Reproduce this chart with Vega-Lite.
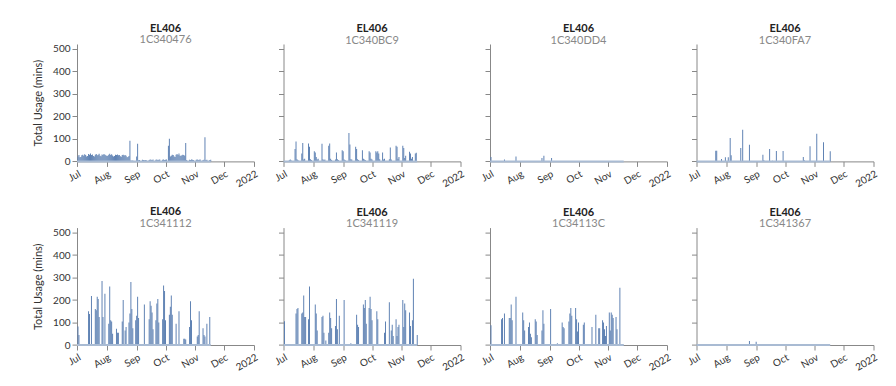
{
  "$schema": "https://vega.github.io/schema/vega-lite/v6.json",
  "background": "white",
  "padding": {"left": 32, "top": 22, "right": 5, "bottom": 5},
  "config": {
    "font": "Lato",
    "view": {"stroke": null},
    "axis": {"labelFont": "Lato", "labelFontSize": 10, "labelColor": "#333", "domainColor": "#888", "tickColor": "#888", "titleFont": "Lato", "titleFontSize": 11, "titleFontWeight": "normal", "titleColor": "#333", "grid": false, "tickSize": 5, "labelOverlap": false},
    "title": {"font": "Lato", "fontSize": 11, "fontWeight": "bold", "color": "#222", "subtitleFont": "Lato", "subtitleFontSize": 11, "subtitleColor": "#888", "offset": -1.5, "subtitlePadding": 0.6, "anchor": "middle"},
    "bar": {"color": "#5a7eb1", "binSpacing": 0}
  },
  "datasets": {
    "p1": [
      {"t":"2021/07/01","v":22},{"t":"2021/07/02","v":28},{"t":"2021/07/03","v":18},{"t":"2021/07/04","v":20},{"t":"2021/07/05","v":27},{"t":"2021/07/06","v":30},{"t":"2021/07/07","v":25},{"t":"2021/07/08","v":32},{"t":"2021/07/09","v":28},{"t":"2021/07/10","v":22},{"t":"2021/07/11","v":24},{"t":"2021/07/12","v":33},{"t":"2021/07/13","v":30},{"t":"2021/07/14","v":35},{"t":"2021/07/15","v":28},{"t":"2021/07/16","v":31},{"t":"2021/07/17","v":24},{"t":"2021/07/18","v":22},{"t":"2021/07/19","v":30},{"t":"2021/07/20","v":33},{"t":"2021/07/21","v":27},{"t":"2021/07/22","v":30},{"t":"2021/07/23","v":34},{"t":"2021/07/24","v":25},{"t":"2021/07/25","v":23},{"t":"2021/07/26","v":31},{"t":"2021/07/27","v":28},{"t":"2021/07/28","v":33},{"t":"2021/07/29","v":30},{"t":"2021/07/30","v":27},{"t":"2021/07/31","v":24},
      {"t":"2021/08/01","v":25},{"t":"2021/08/02","v":30},{"t":"2021/08/03","v":34},{"t":"2021/08/04","v":28},{"t":"2021/08/05","v":32},{"t":"2021/08/06","v":26},{"t":"2021/08/07","v":22},{"t":"2021/08/08","v":24},{"t":"2021/08/09","v":30},{"t":"2021/08/10","v":28},{"t":"2021/08/11","v":31},{"t":"2021/08/12","v":27},{"t":"2021/08/13","v":29},{"t":"2021/08/14","v":23},{"t":"2021/08/15","v":21},{"t":"2021/08/16","v":28},{"t":"2021/08/17","v":30},{"t":"2021/08/18","v":26},{"t":"2021/08/19","v":29},{"t":"2021/08/20","v":25},{"t":"2021/08/21","v":18},{"t":"2021/08/22","v":20},{"t":"2021/08/23","v":24},{"t":"2021/08/24","v":92},{"t":"2021/08/25","v":4},{"t":"2021/08/26","v":3},{"t":"2021/08/27","v":4},{"t":"2021/08/31","v":22},
      {"t":"2021/09/01","v":79},{"t":"2021/09/02","v":5},{"t":"2021/09/03","v":6},{"t":"2021/09/06","v":7},{"t":"2021/09/07","v":6},{"t":"2021/09/08","v":5},{"t":"2021/09/09","v":6},{"t":"2021/09/10","v":5},{"t":"2021/09/13","v":6},{"t":"2021/09/14","v":8},{"t":"2021/09/15","v":7},{"t":"2021/09/16","v":6},{"t":"2021/09/17","v":8},{"t":"2021/09/20","v":7},{"t":"2021/09/21","v":8},{"t":"2021/09/22","v":6},{"t":"2021/09/23","v":7},{"t":"2021/09/24","v":8},{"t":"2021/09/27","v":7},{"t":"2021/09/28","v":8},{"t":"2021/09/29","v":6},{"t":"2021/09/30","v":7},
      {"t":"2021/10/01","v":8},{"t":"2021/10/03","v":70},{"t":"2021/10/04","v":101},{"t":"2021/10/05","v":22},{"t":"2021/10/06","v":25},{"t":"2021/10/07","v":30},{"t":"2021/10/08","v":28},{"t":"2021/10/09","v":22},{"t":"2021/10/10","v":20},{"t":"2021/10/11","v":30},{"t":"2021/10/12","v":33},{"t":"2021/10/13","v":28},{"t":"2021/10/14","v":35},{"t":"2021/10/15","v":26},{"t":"2021/10/16","v":24},{"t":"2021/10/17","v":27},{"t":"2021/10/18","v":30},{"t":"2021/10/19","v":28},{"t":"2021/10/20","v":25},{"t":"2021/10/21","v":82},{"t":"2021/10/22","v":6},{"t":"2021/10/25","v":7},{"t":"2021/10/26","v":6},{"t":"2021/10/27","v":8},{"t":"2021/10/28","v":7},{"t":"2021/10/29","v":6},
      {"t":"2021/11/01","v":7},{"t":"2021/11/02","v":8},{"t":"2021/11/03","v":6},{"t":"2021/11/04","v":7},{"t":"2021/11/05","v":8},{"t":"2021/11/08","v":6},{"t":"2021/11/09","v":7},{"t":"2021/11/10","v":107},{"t":"2021/11/11","v":6},{"t":"2021/11/12","v":7},{"t":"2021/11/15","v":6},{"t":"2021/11/16","v":7},{"t":"2021/11/17","v":0}
    ],
    "p2": [
      {"t":"2021/07/01","v":0},{"t":"2021/07/06","v":5},{"t":"2021/07/07","v":8},{"t":"2021/07/08","v":4},{"t":"2021/07/12","v":55},{"t":"2021/07/13","v":89},{"t":"2021/07/14","v":10},{"t":"2021/07/15","v":6},{"t":"2021/07/19","v":35},{"t":"2021/07/20","v":82},{"t":"2021/07/21","v":8},{"t":"2021/07/22","v":12},{"t":"2021/07/26","v":80},{"t":"2021/07/27","v":65},{"t":"2021/07/28","v":10},{"t":"2021/07/29","v":6},
      {"t":"2021/08/01","v":45},{"t":"2021/08/02","v":40},{"t":"2021/08/03","v":20},{"t":"2021/08/04","v":8},{"t":"2021/08/05","v":12},{"t":"2021/08/09","v":78},{"t":"2021/08/10","v":10},{"t":"2021/08/11","v":6},{"t":"2021/08/12","v":8},{"t":"2021/08/16","v":70},{"t":"2021/08/17","v":80},{"t":"2021/08/18","v":12},{"t":"2021/08/19","v":6},{"t":"2021/08/23","v":8},{"t":"2021/08/24","v":40},{"t":"2021/08/25","v":10},{"t":"2021/08/26","v":6},{"t":"2021/08/30","v":50},{"t":"2021/08/31","v":45},
      {"t":"2021/09/01","v":8},{"t":"2021/09/02","v":6},{"t":"2021/09/06","v":126},{"t":"2021/09/07","v":75},{"t":"2021/09/08","v":10},{"t":"2021/09/09","v":8},{"t":"2021/09/13","v":65},{"t":"2021/09/14","v":55},{"t":"2021/09/15","v":10},{"t":"2021/09/16","v":6},{"t":"2021/09/20","v":50},{"t":"2021/09/21","v":12},{"t":"2021/09/22","v":8},{"t":"2021/09/23","v":6},{"t":"2021/09/27","v":45},{"t":"2021/09/28","v":40},{"t":"2021/09/29","v":12},{"t":"2021/09/30","v":8},
      {"t":"2021/10/04","v":45},{"t":"2021/10/05","v":40},{"t":"2021/10/06","v":45},{"t":"2021/10/07","v":35},{"t":"2021/10/08","v":10},{"t":"2021/10/11","v":40},{"t":"2021/10/12","v":8},{"t":"2021/10/13","v":12},{"t":"2021/10/18","v":10},{"t":"2021/10/19","v":62},{"t":"2021/10/20","v":8},{"t":"2021/10/25","v":70},{"t":"2021/10/26","v":65},{"t":"2021/10/27","v":12},{"t":"2021/10/28","v":20},
      {"t":"2021/11/01","v":70},{"t":"2021/11/02","v":60},{"t":"2021/11/03","v":15},{"t":"2021/11/04","v":25},{"t":"2021/11/08","v":43},{"t":"2021/11/09","v":35},{"t":"2021/11/10","v":12},{"t":"2021/11/11","v":20},{"t":"2021/11/14","v":35},{"t":"2021/11/15","v":38},{"t":"2021/11/17","v":0}
    ],
    "p3": [
      {"t":"2021/07/01","v":20},{"t":"2021/07/15","v":8},{"t":"2021/07/27","v":22},{"t":"2021/08/23","v":15},{"t":"2021/08/25","v":25},{"t":"2021/09/02","v":15},{"t":"2021/11/17","v":0}
    ],
    "p4": [
      {"t":"2021/07/01","v":0},{"t":"2021/07/20","v":47},{"t":"2021/07/21","v":47},{"t":"2021/07/26","v":11},{"t":"2021/07/30","v":18},{"t":"2021/08/02","v":18},{"t":"2021/08/04","v":104},{"t":"2021/08/05","v":27},{"t":"2021/08/15","v":60},{"t":"2021/08/17","v":141},{"t":"2021/08/24","v":74},{"t":"2021/09/07","v":30},{"t":"2021/09/08","v":5},{"t":"2021/09/14","v":55},{"t":"2021/09/17","v":3},{"t":"2021/09/21","v":46},{"t":"2021/09/28","v":46},{"t":"2021/10/19","v":20},{"t":"2021/10/20","v":5},{"t":"2021/10/26","v":67},{"t":"2021/11/02","v":123},{"t":"2021/11/09","v":85},{"t":"2021/11/16","v":45},{"t":"2021/11/17","v":0}
    ],
    "p5": [
      {"t":"2021/07/01","v":82},{"t":"2021/07/02","v":45},{"t":"2021/07/12","v":150},{"t":"2021/07/13","v":138},{"t":"2021/07/15","v":218},{"t":"2021/07/19","v":160},{"t":"2021/07/20","v":155},{"t":"2021/07/21","v":215},{"t":"2021/07/22","v":205},{"t":"2021/07/23","v":125},{"t":"2021/07/26","v":285},{"t":"2021/07/27","v":125},{"t":"2021/07/29","v":228},
      {"t":"2021/08/02","v":95},{"t":"2021/08/03","v":260},{"t":"2021/08/04","v":110},{"t":"2021/08/05","v":105},{"t":"2021/08/06","v":50},{"t":"2021/08/10","v":72},{"t":"2021/08/11","v":55},{"t":"2021/08/12","v":55},{"t":"2021/08/16","v":105},{"t":"2021/08/17","v":200},{"t":"2021/08/19","v":65},{"t":"2021/08/20","v":80},{"t":"2021/08/23","v":100},{"t":"2021/08/24","v":140},{"t":"2021/08/25","v":280},{"t":"2021/08/26","v":160},{"t":"2021/08/27","v":75},{"t":"2021/08/30","v":110},{"t":"2021/08/31","v":130},
      {"t":"2021/09/01","v":215},{"t":"2021/09/02","v":120},{"t":"2021/09/08","v":180},{"t":"2021/09/13","v":115},{"t":"2021/09/14","v":195},{"t":"2021/09/15","v":175},{"t":"2021/09/16","v":145},{"t":"2021/09/17","v":70},{"t":"2021/09/20","v":110},{"t":"2021/09/21","v":185},{"t":"2021/09/22","v":205},{"t":"2021/09/23","v":100},{"t":"2021/09/27","v":115},{"t":"2021/09/28","v":265},{"t":"2021/09/29","v":240},{"t":"2021/09/30","v":110},
      {"t":"2021/10/04","v":135},{"t":"2021/10/05","v":170},{"t":"2021/10/06","v":220},{"t":"2021/10/07","v":135},{"t":"2021/10/11","v":95},{"t":"2021/10/14","v":150},{"t":"2021/10/19","v":28},{"t":"2021/10/20","v":28},{"t":"2021/10/21","v":25},{"t":"2021/10/25","v":80},{"t":"2021/10/26","v":195},{"t":"2021/10/27","v":110},
      {"t":"2021/11/02","v":38},{"t":"2021/11/03","v":45},{"t":"2021/11/04","v":150},{"t":"2021/11/08","v":75},{"t":"2021/11/09","v":45},{"t":"2021/11/10","v":38},{"t":"2021/11/12","v":95},{"t":"2021/11/15","v":125},{"t":"2021/11/17","v":0}
    ],
    "p6": [
      {"t":"2021/07/01","v":106},{"t":"2021/07/13","v":140},{"t":"2021/07/14","v":160},{"t":"2021/07/15","v":165},{"t":"2021/07/19","v":140},{"t":"2021/07/20","v":145},{"t":"2021/07/21","v":220},{"t":"2021/07/22","v":125},{"t":"2021/07/23","v":125},{"t":"2021/07/26","v":115},{"t":"2021/07/27","v":260},{"t":"2021/07/28","v":3},
      {"t":"2021/08/02","v":180},{"t":"2021/08/03","v":140},{"t":"2021/08/04","v":65},{"t":"2021/08/09","v":125},{"t":"2021/08/10","v":130},{"t":"2021/08/11","v":55},{"t":"2021/08/13","v":20},{"t":"2021/08/16","v":55},{"t":"2021/08/17","v":145},{"t":"2021/08/18","v":120},{"t":"2021/08/19","v":75},{"t":"2021/08/23","v":85},{"t":"2021/08/24","v":205},{"t":"2021/08/25","v":70},{"t":"2021/08/27","v":130},
      {"t":"2021/09/01","v":200},{"t":"2021/09/08","v":8},{"t":"2021/09/14","v":135},{"t":"2021/09/15","v":90},{"t":"2021/09/16","v":80},{"t":"2021/09/21","v":180},{"t":"2021/09/22","v":165},{"t":"2021/09/23","v":200},{"t":"2021/09/24","v":95},{"t":"2021/09/27","v":165},{"t":"2021/09/28","v":215},{"t":"2021/09/29","v":160},{"t":"2021/09/30","v":110},
      {"t":"2021/10/05","v":150},{"t":"2021/10/06","v":115},{"t":"2021/10/13","v":55},{"t":"2021/10/14","v":105},{"t":"2021/10/18","v":190},{"t":"2021/10/20","v":65},{"t":"2021/10/21","v":90},{"t":"2021/10/22","v":40},{"t":"2021/10/25","v":115},{"t":"2021/10/26","v":40},{"t":"2021/10/27","v":80},{"t":"2021/10/28","v":90},
      {"t":"2021/11/01","v":200},{"t":"2021/11/02","v":80},{"t":"2021/11/03","v":185},{"t":"2021/11/04","v":155},{"t":"2021/11/08","v":145},{"t":"2021/11/09","v":85},{"t":"2021/11/11","v":110},{"t":"2021/11/12","v":295},{"t":"2021/11/16","v":45},{"t":"2021/11/17","v":0}
    ],
    "p7": [
      {"t":"2021/07/01","v":88},{"t":"2021/07/12","v":115},{"t":"2021/07/13","v":120},{"t":"2021/07/15","v":140},{"t":"2021/07/20","v":120},{"t":"2021/07/21","v":120},{"t":"2021/07/22","v":180},{"t":"2021/07/23","v":110},{"t":"2021/07/27","v":215},
      {"t":"2021/08/03","v":145},{"t":"2021/08/04","v":110},{"t":"2021/08/05","v":65},{"t":"2021/08/09","v":80},{"t":"2021/08/10","v":100},{"t":"2021/08/11","v":50},{"t":"2021/08/12","v":35},{"t":"2021/08/16","v":115},{"t":"2021/08/17","v":105},{"t":"2021/08/18","v":45},{"t":"2021/08/23","v":65},{"t":"2021/08/24","v":155},{"t":"2021/08/25","v":95},
      {"t":"2021/09/01","v":160},{"t":"2021/09/08","v":8},{"t":"2021/09/13","v":100},{"t":"2021/09/14","v":80},{"t":"2021/09/15","v":75},{"t":"2021/09/20","v":105},{"t":"2021/09/21","v":140},{"t":"2021/09/22","v":165},{"t":"2021/09/23","v":130},{"t":"2021/09/27","v":165},{"t":"2021/09/28","v":115},{"t":"2021/09/29","v":60},{"t":"2021/09/30","v":100},
      {"t":"2021/10/05","v":90},{"t":"2021/10/06","v":100},{"t":"2021/10/14","v":80},{"t":"2021/10/18","v":135},{"t":"2021/10/21","v":75},{"t":"2021/10/22","v":75},{"t":"2021/10/25","v":110},{"t":"2021/10/26","v":100},{"t":"2021/10/27","v":70},{"t":"2021/10/28","v":40},{"t":"2021/10/29","v":85},
      {"t":"2021/11/01","v":145},{"t":"2021/11/02","v":65},{"t":"2021/11/03","v":145},{"t":"2021/11/04","v":135},{"t":"2021/11/05","v":120},{"t":"2021/11/08","v":125},{"t":"2021/11/09","v":70},{"t":"2021/11/12","v":255},{"t":"2021/11/15","v":5},{"t":"2021/11/17","v":0}
    ],
    "p8": [
      {"t":"2021/07/01","v":0},{"t":"2021/08/24","v":18},{"t":"2021/08/31","v":15},{"t":"2021/11/17","v":0}
    ]
  },
  "columns": 4,
  "bounds": "flush",
  "spacing": {"row": 65.6, "column": 29.5},
  "concat": [
    {"data": {"name": "p1"}, "title": {"text": "EL406", "subtitle": "1C340476"}, "width": 177, "height": 117.4,
     "layer": [
      {"mark": {"type": "bar", "binSpacing": 0}, "encoding": {
        "x": {"field": "t", "type": "temporal", "timeUnit": "yearmonthdate", "scale": {"domain": [{"year": 2021, "month": 7, "date": 1}, {"year": 2022, "month": 1, "date": 1}]}, "axis": {"title": null, "tickCount": "month", "labelAngle": -30, "labelPadding": 2, "labelExpr": "month(datum.value) == 0 ? timeFormat(datum.value, '%Y') : timeFormat(datum.value, '%b')"}},
        "y": {"field": "v", "type": "quantitative", "scale": {"domain": [0, 522], "nice": false}, "axis": {"title": "Total Usage (mins)", "values": [0, 100, 200, 300, 400, 500], "labelOverlap": false, "labelPadding": 2, "titlePadding": 9}}}},
      {"mark": {"type": "rule", "color": "#a9bbd3", "strokeWidth": 2}, "encoding": {"x": {"aggregate": "min", "field": "t", "type": "temporal"}, "x2": {"aggregate": "max", "field": "t"}, "y": {"datum": 0, "type": "quantitative", "axis": {"title": "Total Usage (mins)", "values": [0, 100, 200, 300, 400, 500], "labelOverlap": false, "labelPadding": 2, "titlePadding": 9}}}}
     ]},
    {"data": {"name": "p2"}, "title": {"text": "EL406", "subtitle": "1C340BC9"}, "width": 177, "height": 117.4,
     "layer": [
      {"mark": {"type": "bar", "binSpacing": 0}, "encoding": {
        "x": {"field": "t", "type": "temporal", "timeUnit": "yearmonthdate", "scale": {"domain": [{"year": 2021, "month": 7, "date": 1}, {"year": 2022, "month": 1, "date": 1}]}, "axis": {"title": null, "tickCount": "month", "labelAngle": -30, "labelPadding": 2, "labelExpr": "month(datum.value) == 0 ? timeFormat(datum.value, '%Y') : timeFormat(datum.value, '%b')"}},
        "y": {"field": "v", "type": "quantitative", "scale": {"domain": [0, 522], "nice": false}, "axis": {"title": null, "labels": false, "values": [0, 100, 200, 300, 400, 500]}}}},
      {"mark": {"type": "rule", "color": "#a9bbd3", "strokeWidth": 2}, "encoding": {"x": {"aggregate": "min", "field": "t", "type": "temporal"}, "x2": {"aggregate": "max", "field": "t"}, "y": {"datum": 0, "type": "quantitative", "axis": {"title": null, "labels": false, "values": [0, 100, 200, 300, 400, 500]}}}}
     ]},
    {"data": {"name": "p3"}, "title": {"text": "EL406", "subtitle": "1C340DD4"}, "width": 177, "height": 117.4,
     "layer": [
      {"mark": {"type": "bar", "binSpacing": 0}, "encoding": {
        "x": {"field": "t", "type": "temporal", "timeUnit": "yearmonthdate", "scale": {"domain": [{"year": 2021, "month": 7, "date": 1}, {"year": 2022, "month": 1, "date": 1}]}, "axis": {"title": null, "tickCount": "month", "labelAngle": -30, "labelPadding": 2, "labelExpr": "month(datum.value) == 0 ? timeFormat(datum.value, '%Y') : timeFormat(datum.value, '%b')"}},
        "y": {"field": "v", "type": "quantitative", "scale": {"domain": [0, 522], "nice": false}, "axis": {"title": null, "labels": false, "values": [0, 100, 200, 300, 400, 500]}}}},
      {"mark": {"type": "rule", "color": "#a9bbd3", "strokeWidth": 2}, "encoding": {"x": {"aggregate": "min", "field": "t", "type": "temporal"}, "x2": {"aggregate": "max", "field": "t"}, "y": {"datum": 0, "type": "quantitative", "axis": {"title": null, "labels": false, "values": [0, 100, 200, 300, 400, 500]}}}}
     ]},
    {"data": {"name": "p4"}, "title": {"text": "EL406", "subtitle": "1C340FA7"}, "width": 177, "height": 117.4,
     "layer": [
      {"mark": {"type": "bar", "binSpacing": 0}, "encoding": {
        "x": {"field": "t", "type": "temporal", "timeUnit": "yearmonthdate", "scale": {"domain": [{"year": 2021, "month": 7, "date": 1}, {"year": 2022, "month": 1, "date": 1}]}, "axis": {"title": null, "tickCount": "month", "labelAngle": -30, "labelPadding": 2, "labelExpr": "month(datum.value) == 0 ? timeFormat(datum.value, '%Y') : timeFormat(datum.value, '%b')"}},
        "y": {"field": "v", "type": "quantitative", "scale": {"domain": [0, 522], "nice": false}, "axis": {"title": null, "labels": false, "values": [0, 100, 200, 300, 400, 500]}}}},
      {"mark": {"type": "rule", "color": "#a9bbd3", "strokeWidth": 2}, "encoding": {"x": {"aggregate": "min", "field": "t", "type": "temporal"}, "x2": {"aggregate": "max", "field": "t"}, "y": {"datum": 0, "type": "quantitative", "axis": {"title": null, "labels": false, "values": [0, 100, 200, 300, 400, 500]}}}}
     ]},
    {"data": {"name": "p5"}, "title": {"text": "EL406", "subtitle": "1C341112"}, "width": 177, "height": 117.4,
     "layer": [
      {"mark": {"type": "bar", "binSpacing": 0}, "encoding": {
        "x": {"field": "t", "type": "temporal", "timeUnit": "yearmonthdate", "scale": {"domain": [{"year": 2021, "month": 7, "date": 1}, {"year": 2022, "month": 1, "date": 1}]}, "axis": {"title": null, "tickCount": "month", "labelAngle": -30, "labelPadding": 2, "labelExpr": "month(datum.value) == 0 ? timeFormat(datum.value, '%Y') : timeFormat(datum.value, '%b')"}},
        "y": {"field": "v", "type": "quantitative", "scale": {"domain": [0, 522], "nice": false}, "axis": {"title": "Total Usage (mins)", "values": [0, 100, 200, 300, 400, 500], "labelOverlap": false, "labelPadding": 2, "titlePadding": 9}}}},
      {"mark": {"type": "rule", "color": "#a9bbd3", "strokeWidth": 2}, "encoding": {"x": {"aggregate": "min", "field": "t", "type": "temporal"}, "x2": {"aggregate": "max", "field": "t"}, "y": {"datum": 0, "type": "quantitative", "axis": {"title": "Total Usage (mins)", "values": [0, 100, 200, 300, 400, 500], "labelOverlap": false, "labelPadding": 2, "titlePadding": 9}}}}
     ]},
    {"data": {"name": "p6"}, "title": {"text": "EL406", "subtitle": "1C341119"}, "width": 177, "height": 117.4,
     "layer": [
      {"mark": {"type": "bar", "binSpacing": 0}, "encoding": {
        "x": {"field": "t", "type": "temporal", "timeUnit": "yearmonthdate", "scale": {"domain": [{"year": 2021, "month": 7, "date": 1}, {"year": 2022, "month": 1, "date": 1}]}, "axis": {"title": null, "tickCount": "month", "labelAngle": -30, "labelPadding": 2, "labelExpr": "month(datum.value) == 0 ? timeFormat(datum.value, '%Y') : timeFormat(datum.value, '%b')"}},
        "y": {"field": "v", "type": "quantitative", "scale": {"domain": [0, 522], "nice": false}, "axis": {"title": null, "labels": false, "values": [0, 100, 200, 300, 400, 500]}}}},
      {"mark": {"type": "rule", "color": "#a9bbd3", "strokeWidth": 2}, "encoding": {"x": {"aggregate": "min", "field": "t", "type": "temporal"}, "x2": {"aggregate": "max", "field": "t"}, "y": {"datum": 0, "type": "quantitative", "axis": {"title": null, "labels": false, "values": [0, 100, 200, 300, 400, 500]}}}}
     ]},
    {"data": {"name": "p7"}, "title": {"text": "EL406", "subtitle": "1C34113C"}, "width": 177, "height": 117.4,
     "layer": [
      {"mark": {"type": "bar", "binSpacing": 0}, "encoding": {
        "x": {"field": "t", "type": "temporal", "timeUnit": "yearmonthdate", "scale": {"domain": [{"year": 2021, "month": 7, "date": 1}, {"year": 2022, "month": 1, "date": 1}]}, "axis": {"title": null, "tickCount": "month", "labelAngle": -30, "labelPadding": 2, "labelExpr": "month(datum.value) == 0 ? timeFormat(datum.value, '%Y') : timeFormat(datum.value, '%b')"}},
        "y": {"field": "v", "type": "quantitative", "scale": {"domain": [0, 522], "nice": false}, "axis": {"title": null, "labels": false, "values": [0, 100, 200, 300, 400, 500]}}}},
      {"mark": {"type": "rule", "color": "#a9bbd3", "strokeWidth": 2}, "encoding": {"x": {"aggregate": "min", "field": "t", "type": "temporal"}, "x2": {"aggregate": "max", "field": "t"}, "y": {"datum": 0, "type": "quantitative", "axis": {"title": null, "labels": false, "values": [0, 100, 200, 300, 400, 500]}}}}
     ]},
    {"data": {"name": "p8"}, "title": {"text": "EL406", "subtitle": "1C341367"}, "width": 177, "height": 117.4,
     "layer": [
      {"mark": {"type": "bar", "binSpacing": 0}, "encoding": {
        "x": {"field": "t", "type": "temporal", "timeUnit": "yearmonthdate", "scale": {"domain": [{"year": 2021, "month": 7, "date": 1}, {"year": 2022, "month": 1, "date": 1}]}, "axis": {"title": null, "tickCount": "month", "labelAngle": -30, "labelPadding": 2, "labelExpr": "month(datum.value) == 0 ? timeFormat(datum.value, '%Y') : timeFormat(datum.value, '%b')"}},
        "y": {"field": "v", "type": "quantitative", "scale": {"domain": [0, 522], "nice": false}, "axis": {"title": null, "labels": false, "values": [0, 100, 200, 300, 400, 500]}}}},
      {"mark": {"type": "rule", "color": "#a9bbd3", "strokeWidth": 2}, "encoding": {"x": {"aggregate": "min", "field": "t", "type": "temporal"}, "x2": {"aggregate": "max", "field": "t"}, "y": {"datum": 0, "type": "quantitative", "axis": {"title": null, "labels": false, "values": [0, 100, 200, 300, 400, 500]}}}}
     ]}
  ]
}
